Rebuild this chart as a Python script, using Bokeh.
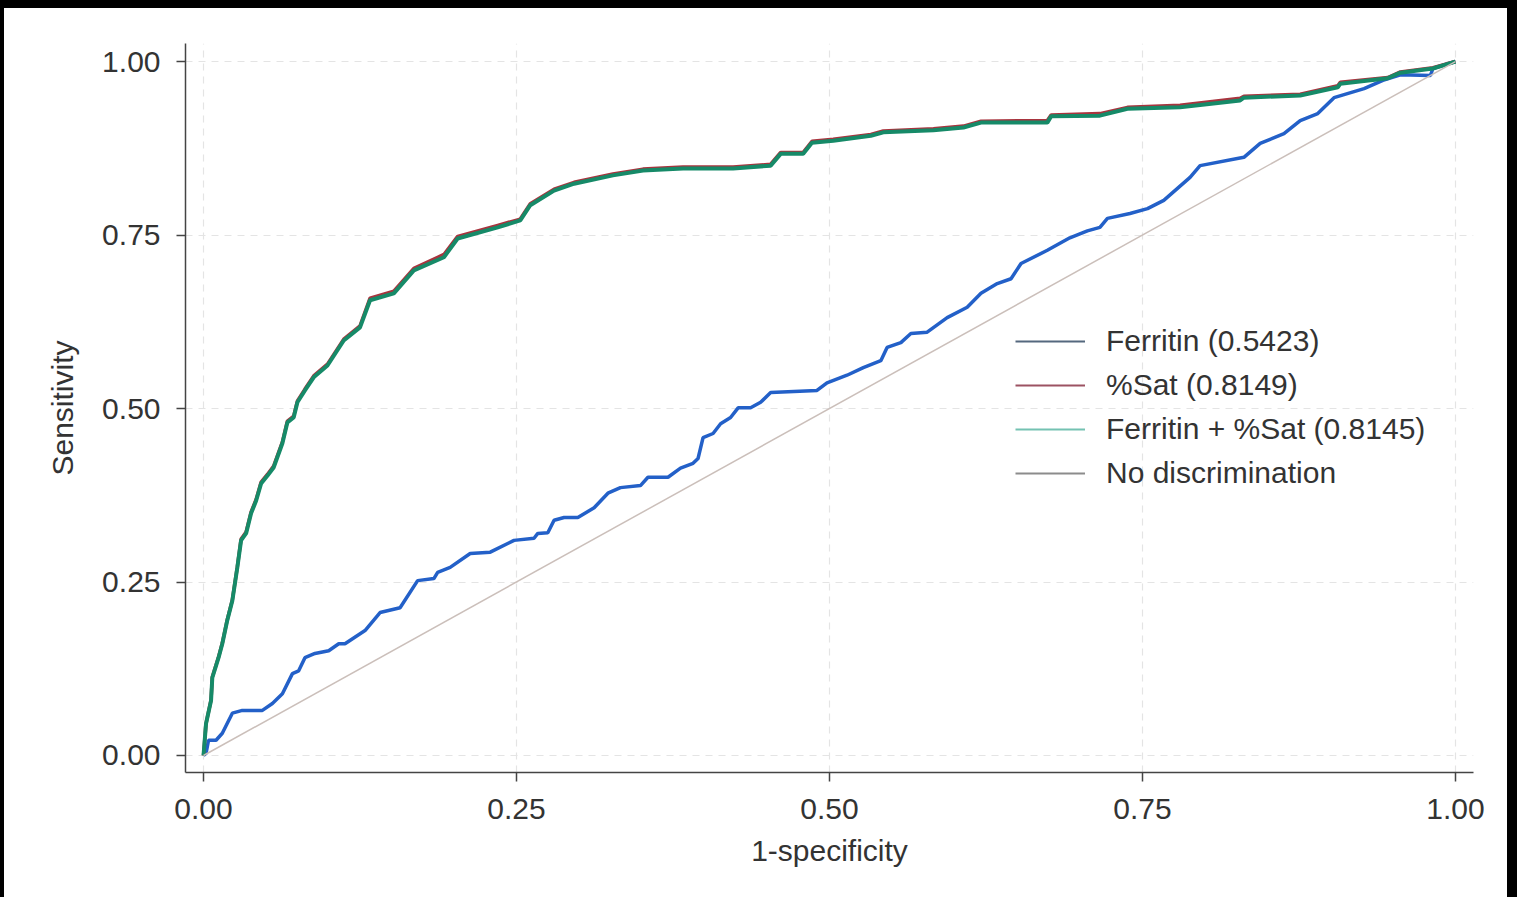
from bokeh.plotting import figure
from bokeh.models import Legend, LegendItem, FixedTicker, NumeralTickFormatter, Range1d
from bokeh.embed import file_html
from bokeh.resources import INLINE

# ---------------- data ----------------
ferritin_x = [0.000, 0.002, 0.004, 0.010, 0.015, 0.023, 0.031, 0.047, 0.055, 0.063, 0.071, 0.076,
              0.081, 0.089, 0.100, 0.108, 0.113, 0.129, 0.141, 0.157, 0.171, 0.184, 0.187, 0.197,
              0.213, 0.229, 0.248, 0.264, 0.267, 0.275, 0.280, 0.288, 0.299, 0.312, 0.323, 0.333,
              0.349, 0.355, 0.371, 0.381, 0.391, 0.395, 0.399, 0.407, 0.413, 0.421, 0.427, 0.437,
              0.445, 0.453, 0.490, 0.498, 0.514, 0.527, 0.541, 0.546, 0.557, 0.565, 0.578, 0.594,
              0.610, 0.621, 0.634, 0.645, 0.653, 0.674, 0.692, 0.706, 0.716, 0.722, 0.740, 0.754,
              0.767, 0.788, 0.796, 0.831, 0.844, 0.863, 0.876, 0.890, 0.903, 0.927, 0.942, 0.956,
              0.980, 0.982, 1.000]
ferritin_y = [0.000, 0.003, 0.022, 0.022, 0.032, 0.061, 0.065, 0.065, 0.075, 0.089, 0.118, 0.122,
              0.141, 0.147, 0.151, 0.161, 0.161, 0.180, 0.206, 0.213, 0.252, 0.255, 0.264, 0.271,
              0.291, 0.293, 0.310, 0.313, 0.320, 0.321, 0.339, 0.343, 0.343, 0.357, 0.378, 0.386,
              0.389, 0.401, 0.401, 0.414, 0.421, 0.428, 0.458, 0.464, 0.478, 0.487, 0.501, 0.501,
              0.509, 0.523, 0.526, 0.537, 0.548, 0.559, 0.569, 0.588, 0.595, 0.608, 0.610, 0.631,
              0.646, 0.666, 0.680, 0.687, 0.709, 0.728, 0.746, 0.756, 0.761, 0.774, 0.781, 0.788,
              0.800, 0.833, 0.850, 0.862, 0.882, 0.896, 0.915, 0.925, 0.948, 0.961, 0.973, 0.981,
              0.980, 0.990, 1.000]

combo_x = [0.000, 0.002, 0.006, 0.007, 0.012, 0.015, 0.019, 0.023, 0.027, 0.030, 0.034, 0.038,
           0.042, 0.046, 0.051, 0.056, 0.063, 0.067, 0.072, 0.075, 0.081, 0.088, 0.099, 0.112,
           0.125, 0.133, 0.152, 0.168, 0.192, 0.203, 0.235, 0.253, 0.261, 0.280, 0.296, 0.327,
           0.351, 0.383, 0.423, 0.453, 0.461, 0.479, 0.486, 0.503, 0.533, 0.543, 0.583, 0.607,
           0.621, 0.674, 0.677, 0.716, 0.738, 0.780, 0.828, 0.831, 0.876, 0.906, 0.908, 0.946,
           0.956, 0.982, 1.000]
combo_y = [0.000, 0.046, 0.079, 0.112, 0.141, 0.161, 0.195, 0.223, 0.271, 0.310, 0.320, 0.349,
           0.367, 0.392, 0.403, 0.415, 0.450, 0.480, 0.487, 0.509, 0.526, 0.545, 0.562, 0.598,
           0.617, 0.656, 0.666, 0.699, 0.718, 0.745, 0.761, 0.771, 0.793, 0.814, 0.824, 0.836,
           0.843, 0.846, 0.846, 0.850, 0.867, 0.867, 0.883, 0.886, 0.893, 0.898, 0.901, 0.905,
           0.912, 0.912, 0.921, 0.922, 0.932, 0.934, 0.944, 0.948, 0.951, 0.963, 0.968, 0.976,
           0.984, 0.990, 1.000]

sat_x = [0.000, 0.002, 0.006, 0.007, 0.012, 0.015, 0.019, 0.023, 0.027, 0.030, 0.034, 0.038,
         0.042, 0.046, 0.051, 0.056, 0.063, 0.067, 0.072, 0.075, 0.081, 0.088, 0.099, 0.112,
         0.125, 0.133, 0.152, 0.168, 0.192, 0.203, 0.235, 0.253, 0.261, 0.280, 0.296, 0.327,
         0.351, 0.383, 0.423, 0.453, 0.461, 0.479, 0.486, 0.503, 0.533, 0.543, 0.583, 0.607,
         0.621, 0.674, 0.677, 0.716, 0.738, 0.780, 0.828, 0.831, 0.876, 0.906, 0.908, 0.946,
         0.956, 0.982, 1.000]
sat_y = [0.000, 0.046, 0.080, 0.113, 0.142, 0.162, 0.196, 0.224, 0.272, 0.312, 0.322, 0.351,
         0.369, 0.394, 0.405, 0.417, 0.452, 0.482, 0.489, 0.511, 0.528, 0.547, 0.564, 0.600,
         0.619, 0.659, 0.669, 0.702, 0.722, 0.748, 0.764, 0.773, 0.795, 0.816, 0.826, 0.838,
         0.845, 0.848, 0.848, 0.852, 0.869, 0.869, 0.885, 0.888, 0.895, 0.900, 0.903, 0.907,
         0.914, 0.915, 0.923, 0.925, 0.934, 0.937, 0.947, 0.950, 0.953, 0.965, 0.970, 0.977,
         0.985, 0.991, 1.000]

ref_x = [0.0, 1.0]
ref_y = [0.0, 1.0]

ticks = [0.0, 0.25, 0.5, 0.75, 1.0]
legend_labels = ["Ferritin (0.5423)", "%Sat (0.8149)", "Ferritin + %Sat (0.8145)", "No discrimination"]

FONT = "Liberation Sans"
TXT = "#333333"
NAN = float("nan")

p = figure(width=1517, height=897, output_backend="svg", toolbar_location=None,
           x_range=Range1d(-0.0144, 1.0144), y_range=Range1d(-0.0245, 1.026),
           min_border_left=181, min_border_right=48, min_border_top=35, min_border_bottom=133)
p.styles = {"border-top": "8px solid #000000", "border-left": "4px solid #000000",
            "border-right": "10px solid #000000"}
p.outline_line_color = None
p.background_fill_color = "white"
p.border_fill_color = "white"

# axes
for ax in (p.xaxis[0], p.yaxis[0]):
    ax.ticker = FixedTicker(ticks=ticks)
    ax.formatter = NumeralTickFormatter(format="0.00")
    ax.major_tick_out = 9
    ax.major_tick_in = 0
    ax.minor_tick_line_color = None
    ax.axis_line_color = "#444444"
    ax.axis_line_width = 1.5
    ax.major_tick_line_color = "#444444"
    ax.major_tick_line_width = 1.5
    ax.major_label_text_font = FONT
    ax.major_label_text_font_size = "30px"
    ax.major_label_text_color = TXT
    ax.axis_label_text_font = FONT
    ax.axis_label_text_font_size = "30px"
    ax.axis_label_text_font_style = "normal"
    ax.axis_label_text_color = TXT

p.xaxis.axis_label = "1-specificity"
p.yaxis.axis_label = "Sensitivity"
p.xaxis.major_label_standoff = 17
p.yaxis.major_label_standoff = 16
p.xaxis.axis_label_standoff = 12
p.yaxis.axis_label_standoff = 20

for g in (p.xgrid[0], p.ygrid[0]):
    g.ticker = FixedTicker(ticks=ticks)
    g.grid_line_color = "#e4e4e4"
    g.grid_line_dash = "7 6"
    g.grid_line_width = 1.2

# curves (Stata draw order)
p.line(ferritin_x, ferritin_y, line_color="#2360c8", line_width=3.5)
p.line(sat_x, sat_y, line_color="#a8343e", line_width=3.5)
p.line(combo_x, combo_y, line_color="#168a68", line_width=4)
p.line(ref_x, ref_y, line_color="#cbbfba", line_width=1.5)

# legend keys (thin lines as in the reference legend)
leg_colors = ["#55687e", "#9c5262", "#74c2b2", "#8c8c8c"]
items = []
for lab, col in zip(legend_labels, leg_colors):
    r = p.line([NAN], [NAN], line_color=col, line_width=1.8)
    items.append(LegendItem(label=lab, renderers=[r]))

legend = Legend(items=items, location=(830, 277), orientation="vertical",
                glyph_width=70, glyph_height=44, label_height=44, label_standoff=21,
                spacing=0, padding=0, margin=0,
                label_text_font=FONT, label_text_font_size="30px", label_text_color=TXT,
                border_line_color=None, background_fill_alpha=0)
p.add_layout(legend, "center")

open("out.html", "w").write(file_html(p, INLINE))
